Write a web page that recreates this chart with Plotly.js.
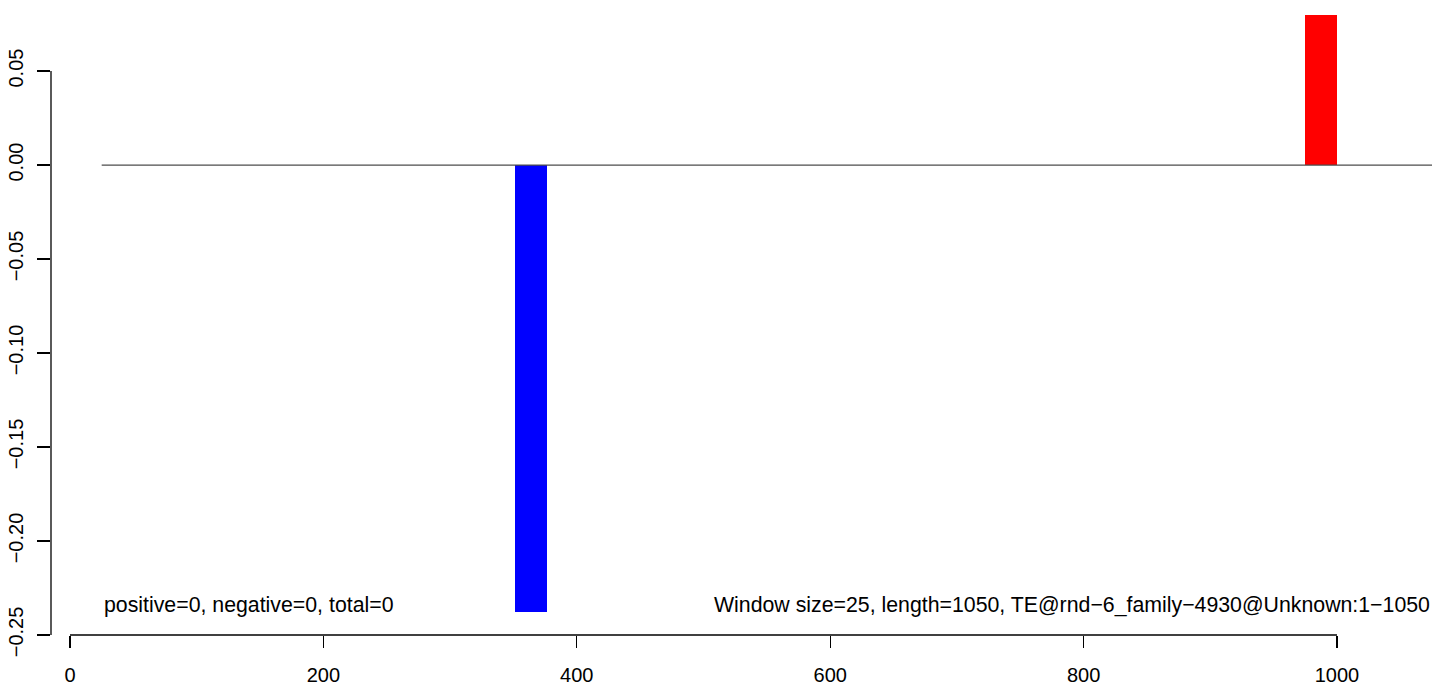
<!DOCTYPE html>
<html>
<head>
<meta charset="utf-8">
<script src="https://cdn.plot.ly/plotly-3.0.1.min.js"></script>
<style>html,body{margin:0;padding:0;background:#fff;}#chart{width:1444px;height:687px;}</style>
</head>
<body>
<div id="chart"></div>
<script>
// Data
const windowStarts = [351.5, 975];
const windowSize = 25;
const windowValues = [-0.238, 0.080];
const barColors = ['#0000ff', '#ff0000'];
const baselineX = [25, 1075];
const baselineY = [0, 0];
const xTickVals = [0, 200, 400, 600, 800, 1000];
const yTickVals = [-0.25, -0.20, -0.15, -0.10, -0.05, 0.00, 0.05];
const leftNote = 'positive=0, negative=0, total=0';
const rightNote = 'Window size=25, length=1050, TE@rnd\u22126_family\u22124930@Unknown:1\u22121050';

const font = {family: 'Liberation Sans, Arial, sans-serif', size: 20, color: '#000'};
const noteFont = {family: 'Liberation Sans, Arial, sans-serif', size: 21.3, color: '#000'};

const traces = [
  {
    type: 'scatter', mode: 'lines', x: baselineX, y: baselineY,
    line: {color: '#4d4d4d', width: 1.2}, hoverinfo: 'skip', showlegend: false
  },
  {
    type: 'bar', x: windowStarts, y: windowValues, base: 0,
    width: windowSize, offset: 0,
    marker: {color: barColors, line: {width: 0}}, showlegend: false
  }
];

const layout = {
  width: 1444, height: 687,
  margin: {l: 51, r: 12, t: 0, b: 52, pad: 0},
  paper_bgcolor: '#fff', plot_bgcolor: '#fff',
  font: font,
  showlegend: false,
  bargap: 0,
  xaxis: {
    range: [-15, 1075], tickvals: xTickVals, ticktext: xTickVals.map(String),
    showgrid: false, zeroline: false, showline: false,
    ticks: 'outside', ticklen: 12, tickwidth: 1.3, tickcolor: '#000',
    ticklabelstandoff: 10,
    tickfont: font
  },
  yaxis: {
    range: [-0.25, 0.0878], tickvals: yTickVals,
    ticktext: yTickVals.map(v => (v < 0 ? '\u2212' : '') + Math.abs(v).toFixed(2)),
    showgrid: false, zeroline: false, showline: false,
    ticks: 'outside', ticklen: 13, tickwidth: 1.3, tickcolor: '#000',
    ticklabelstandoff: 6,
    tickangle: -90, tickfont: font
  },
  shapes: [
    {type: 'line', xref: 'x', yref: 'paper', x0: xTickVals[0], x1: xTickVals[xTickVals.length-1], y0: 0, y1: 0,
     line: {color: '#000', width: 1.3}},
    {type: 'line', xref: 'paper', yref: 'y', x0: 0, x1: 0, y0: yTickVals[0], y1: yTickVals[yTickVals.length-1],
     line: {color: '#000', width: 1.3}}
  ],
  annotations: [
    {xref: 'x', yref: 'y', x: baselineX[0], y: -0.234, xanchor: 'left', yanchor: 'middle',
     text: leftNote, showarrow: false, font: noteFont},
    {xref: 'x', yref: 'y', x: baselineX[1], y: -0.234, xanchor: 'right', yanchor: 'middle',
     text: rightNote, showarrow: false, font: noteFont}
  ]
};

Plotly.newPlot('chart', traces, layout, {displayModeBar: false, staticPlot: true});
</script>
</body>
</html>
